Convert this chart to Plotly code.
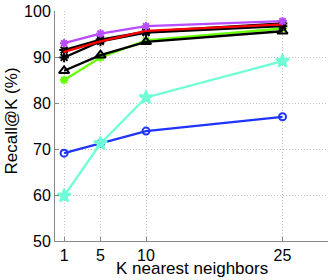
import plotly.graph_objects as go

k_values = [1, 5, 10, 25]
x_ticks = [1, 5, 10, 25]
y_ticks = [50, 60, 70, 80, 90, 100]

blue_circle = [69.1, 71.2, 73.9, 77.0]
cyan_star = [59.8, 71.2, 81.2, 89.1]
green_star = [85.0, 89.9, 93.6, 96.2]
black_triangle = [87.0, 90.4, 93.3, 95.6]
black_star_low = [89.9, 93.4, 95.3, 96.7]
black_star_high = [91.5, 93.8, 95.5, 97.3]
red_line = [91.1, 93.4, 95.7, 97.1]
purple_star = [93.0, 95.1, 96.7, 97.8]

series = [
    ("blue", blue_circle, "#1f35ff", "circle-open", 7),
    ("cyan", cyan_star, "#6fffd6", "star", 10),
    ("green", green_star, "#66ff00", "asterisk-open", 7),
    ("black_tri", black_triangle, "#000000", "triangle-up-open", 9),
    ("black_low", black_star_low, "#000000", "asterisk-open", 8),
    ("black_high", black_star_high, "#000000", "asterisk-open", 8),
    ("red", red_line, "#ff0000", "line-ew", 1),
    ("purple", purple_star, "#b84cff", "asterisk-open", 7),
]

fig = go.Figure()
for name, vals, col, sym, size in series:
    fig.add_trace(go.Scatter(
        x=k_values, y=vals, mode="lines+markers", name=name,
        line=dict(color=col, width=2.3),
        marker=dict(symbol=sym, size=size, color=col,
                    line=dict(color=col, width=2)),
        showlegend=False,
    ))

tick_font = dict(family="Liberation Sans, Arial, sans-serif", size=16, color="#000000")
title_font = dict(family="Liberation Sans, Arial, sans-serif", size=17, color="#000000")

fig.update_layout(
    width=332, height=280,
    margin=dict(l=55, r=4, t=11, b=39, autoexpand=False),
    paper_bgcolor="white", plot_bgcolor="white",
    font=tick_font,
    xaxis=dict(
        range=[0, 30], tickvals=x_ticks, ticktext=[str(v) for v in x_ticks],
        showgrid=True, gridcolor="#c4c4c4", griddash="1px,2px", gridwidth=1,
        showline=True, linecolor="#888888", linewidth=1,
        ticks="inside", ticklen=4, tickcolor="#888888",
        zeroline=False, tickfont=tick_font, automargin=False,
    ),
    yaxis=dict(
        range=[50, 100], tickvals=y_ticks,
        showgrid=True, gridcolor="#c4c4c4", griddash="1px,2px", gridwidth=1,
        showline=True, linecolor="#888888", linewidth=1,
        ticks="inside", ticklen=4, tickcolor="#888888",
        zeroline=False, tickfont=tick_font, automargin=False,
    ),
    annotations=[
        dict(text="K nearest neighbors", xref="paper", yref="paper",
             x=0.50, y=-0.166, xanchor="center", yanchor="bottom",
             borderpad=0, showarrow=False, font=title_font),
        dict(text="Recall@K (%)", xref="paper", yref="paper",
             x=-0.161, y=0.52, xanchor="center", yanchor="middle",
             textangle=-90, showarrow=False, font=title_font),
    ],
)

fig.write_html("out.html",
               config={"displayModeBar": False, "staticPlot": True},
               post_script="document.body.style.margin='0';document.body.style.overflow='hidden';")
